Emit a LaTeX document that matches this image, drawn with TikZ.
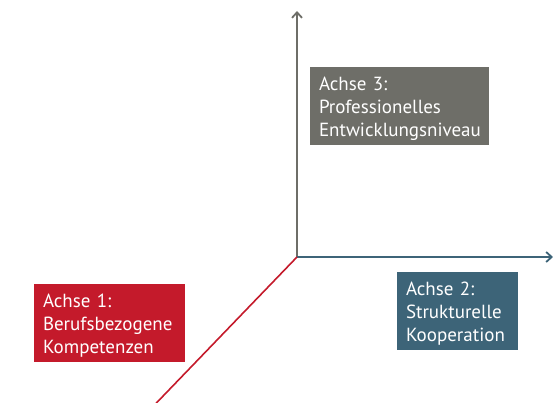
\documentclass[tikz,border=0pt]{standalone}
\usepackage{fontspec}
\setmainfont{PT Sans}
\usetikzlibrary{arrows.meta}
\definecolor{axisgray}{HTML}{6E6E68}
\definecolor{axisblue}{HTML}{3D6478}
\definecolor{axisred}{HTML}{C41A2B}
\tikzset{
  axisline/.style={line width=2pt, -{Straight Barb[length=5.5pt,width=10pt,line width=1.8pt]}},
  labelbox/.style={anchor=north west, inner xsep=9pt, inner ysep=0pt, align=left,
    text=white, font=\fontsize{19}{23}\selectfont, text height=19pt,
    minimum height=78pt, outer sep=0pt},
}
\begin{document}
\begin{tikzpicture}[x=1pt,y=-1pt]
  \useasboundingbox (0,0) rectangle (553,403);
  \clip (0,0) rectangle (553,403);
  % axes meeting at the origin
  \coordinate (o) at (297,257);
  \coordinate (ytop) at (297,11);
  \coordinate (xend) at (553,257);
  \coordinate (zend) at (140,420);
  \draw[axisline, axisgray] (o) -- (ytop);
  \draw[axisline, axisblue] (o) -- (xend);
  \draw[line width=1.6pt, axisred] (o) -- (zend);
  % axis labels
  \node[labelbox, fill=axisgray, minimum width=179pt, text width=161pt] (a3) at (310,67)
    {Achse 3:\\Professionelles\\Entwicklungsniveau};
  \node[labelbox, fill=axisred, minimum width=151pt, text width=133pt] (a1) at (34,284)
    {Achse 1:\\Berufsbezogene\\Kompetenzen};
  \node[labelbox, fill=axisblue, minimum width=121pt, text width=103pt] (a2) at (397,272)
    {Achse 2:\\Strukturelle\\Kooperation};
\end{tikzpicture}
\end{document}
